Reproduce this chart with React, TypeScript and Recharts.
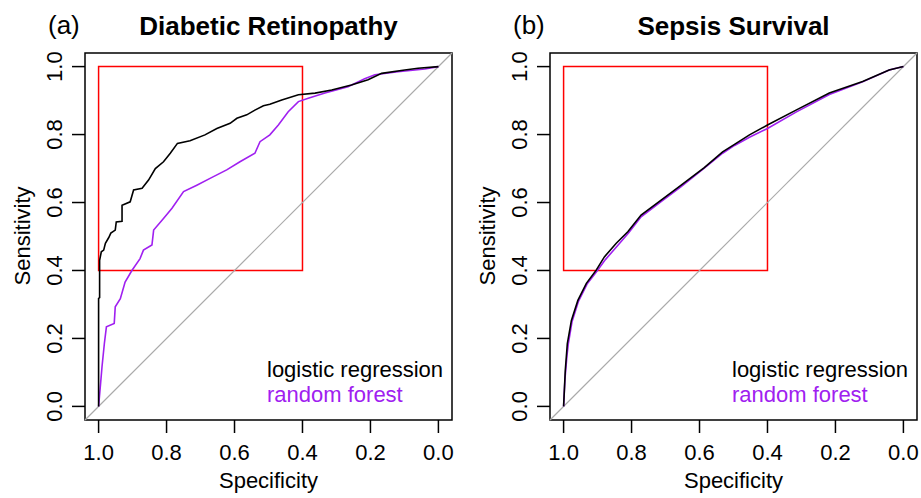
import React from "react";
import {
  LineChart,
  Line,
  XAxis,
  YAxis,
  ReferenceArea,
  ReferenceLine,
} from "recharts";

// axis ticks shared by both panels
const TICKS = [1.0, 0.8, 0.6, 0.4, 0.2, 0.0];

// (a) Diabetic Retinopathy - logistic regression
const lrSpecA = [1.0, 1.0, 0.997, 0.997, 0.992, 0.985, 0.98, 0.97, 0.964, 0.951, 0.948, 0.931, 0.931, 0.907, 0.897, 0.872, 0.853, 0.833, 0.809, 0.789, 0.768, 0.731, 0.687, 0.652, 0.613, 0.593, 0.564, 0.54, 0.515, 0.496, 0.461, 0.412, 0.363, 0.314, 0.256, 0.207, 0.167, 0.099, 0.06, 0.0];
const lrSensA = [0, 0.318, 0.32, 0.43, 0.455, 0.46, 0.48, 0.497, 0.51, 0.519, 0.543, 0.545, 0.592, 0.602, 0.637, 0.642, 0.666, 0.7, 0.72, 0.745, 0.774, 0.782, 0.799, 0.818, 0.833, 0.848, 0.858, 0.872, 0.885, 0.889, 0.902, 0.917, 0.922, 0.931, 0.946, 0.961, 0.98, 0.99, 0.995, 1.0];

// (a) Diabetic Retinopathy - random forest
const rfSpecA = [1.0, 0.995, 0.99, 0.983, 0.977, 0.954, 0.951, 0.936, 0.922, 0.902, 0.878, 0.868, 0.843, 0.838, 0.809, 0.784, 0.75, 0.711, 0.672, 0.623, 0.584, 0.54, 0.525, 0.496, 0.471, 0.442, 0.412, 0.383, 0.334, 0.266, 0.217, 0.187, 0.119, 0.04, 0.0];
const rfSensA = [0, 0.057, 0.116, 0.185, 0.234, 0.244, 0.293, 0.317, 0.366, 0.4, 0.435, 0.46, 0.475, 0.519, 0.553, 0.583, 0.632, 0.651, 0.671, 0.696, 0.72, 0.745, 0.779, 0.799, 0.828, 0.867, 0.897, 0.907, 0.922, 0.941, 0.964, 0.976, 0.985, 0.993, 1.0];

// (b) Sepsis Survival - logistic regression
const lrSpecB = [1.0, 0.995, 0.989, 0.977, 0.958, 0.933, 0.904, 0.88, 0.845, 0.811, 0.772, 0.713, 0.654, 0.586, 0.532, 0.497, 0.453, 0.4, 0.316, 0.218, 0.12, 0.042, 0.0];
const lrSensB = [0, 0.106, 0.185, 0.253, 0.312, 0.362, 0.401, 0.44, 0.48, 0.514, 0.563, 0.607, 0.651, 0.703, 0.749, 0.771, 0.799, 0.828, 0.872, 0.922, 0.956, 0.99, 1.0];

// (b) Sepsis Survival - random forest
const rfSpecB = [1.0, 0.996, 0.99, 0.986, 0.975, 0.956, 0.931, 0.902, 0.877, 0.842, 0.809, 0.772, 0.713, 0.654, 0.586, 0.532, 0.497, 0.453, 0.4, 0.316, 0.218, 0.12, 0.042, 0.0];
const rfSensB = [0, 0.08, 0.15, 0.185, 0.25, 0.31, 0.36, 0.398, 0.432, 0.472, 0.51, 0.558, 0.603, 0.647, 0.701, 0.745, 0.768, 0.792, 0.818, 0.866, 0.918, 0.955, 0.99, 1.0];

const FONT = '"Liberation Sans", Arial, Helvetica, sans-serif';
const PURPLE = "#A020F0";

const toPoints = (spec: number[], sens: number[]) =>
  spec.map((s, i) => ({ spec: s, sens: sens[i] }));

const XTick = ({ x, payload }: any) => (
  <text x={x} y={460} textAnchor="middle" fontSize={22} fontFamily={FONT} fill="#000">
    {Number(payload.value).toFixed(1)}
  </text>
);

const YTick = ({ y, payload }: any) => (
  <text
    x={62}
    y={y}
    textAnchor="middle"
    fontSize={22}
    fontFamily={FONT}
    fill="#000"
    transform={`rotate(-90, 62, ${y})`}
  >
    {Number(payload.value).toFixed(1)}
  </text>
);

function Panel({
  left,
  letter,
  title,
  lr,
  rf,
}: {
  left: number;
  letter: string;
  title: string;
  lr: { spec: number; sens: number }[];
  rf: { spec: number; sens: number }[];
}) {
  return (
    <div style={{ position: "absolute", left, top: 0, width: 456, height: 498 }}>
      <LineChart width={456} height={498} margin={{ top: 53, right: 4, left: 25, bottom: 33 }}>
        <XAxis
          type="number"
          dataKey="spec"
          domain={[-0.04, 1.04]}
          allowDataOverflow
          reversed
          ticks={TICKS}
          tick={<XTick />}
          tickSize={13}
          tickLine={{ stroke: "#000", strokeWidth: 1.5 }}
          axisLine={false}
          height={45}
        />
        <YAxis
          type="number"
          dataKey="sens"
          domain={[-0.04, 1.04]}
          allowDataOverflow
          ticks={TICKS}
          tick={<YTick />}
          tickSize={13}
          tickLine={{ stroke: "#000", strokeWidth: 1.5 }}
          axisLine={false}
          width={60}
        />
        <ReferenceLine
          segment={[
            { x: 1.04, y: -0.04 },
            { x: -0.04, y: 1.04 },
          ]}
          stroke="#AAAAAA"
          strokeWidth={1.2}
          ifOverflow="visible"
        />
        <ReferenceArea
          x1={0.4}
          x2={1.0}
          y1={0.4}
          y2={1.0}
          fill="none"
          stroke="#FF0000"
          strokeWidth={1.5}
          ifOverflow="visible"
        />
        <Line
          data={rf}
          dataKey="sens"
          type="linear"
          stroke={PURPLE}
          strokeWidth={1.6}
          dot={false}
          isAnimationActive={false}
        />
        <Line
          data={lr}
          dataKey="sens"
          type="linear"
          stroke="#000"
          strokeWidth={1.6}
          dot={false}
          isAnimationActive={false}
        />
        <ReferenceArea
          x1={-0.04}
          x2={1.04}
          y1={-0.04}
          y2={1.04}
          fill="none"
          stroke="#000"
          strokeWidth={1.5}
          ifOverflow="visible"
        />
      </LineChart>
      <svg
        width={456}
        height={498}
        style={{ position: "absolute", left: 0, top: 0, pointerEvents: "none" }}
        fontFamily={FONT}
      >
        <text x={48} y={34} fontSize={26}>{letter}</text>
        <text x={268.5} y={34.5} fontSize={26} fontWeight="bold" textAnchor="middle">
          {title}
        </text>
        <text x={268.5} y={488} fontSize={22} textAnchor="middle">Specificity</text>
        <text x={30} y={236} fontSize={22} textAnchor="middle" transform="rotate(-90, 30, 236)">
          Sensitivity
        </text>
        <text x={267} y={377} fontSize={22}>logistic regression</text>
        <text x={267} y={402} fontSize={22} fill={PURPLE}>random forest</text>
      </svg>
    </div>
  );
}

export default function App() {
  return (
    <div style={{ position: "absolute", left: 0, top: 0, width: 921, height: 498, background: "#fff" }}>
      <Panel
        left={0}
        letter="(a)"
        title="Diabetic Retinopathy"
        lr={toPoints(lrSpecA, lrSensA)}
        rf={toPoints(rfSpecA, rfSensA)}
      />
      <Panel
        left={465}
        letter="(b)"
        title="Sepsis Survival"
        lr={toPoints(lrSpecB, lrSensB)}
        rf={toPoints(rfSpecB, rfSensB)}
      />
    </div>
  );
}
